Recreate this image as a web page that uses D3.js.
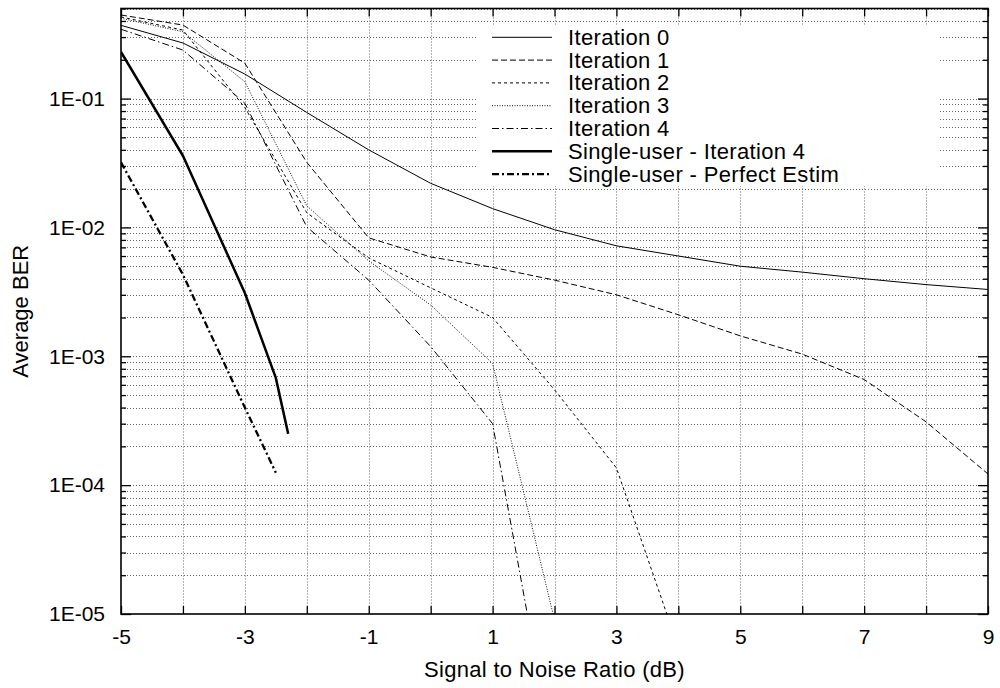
<!DOCTYPE html>
<html>
<head>
<meta charset="utf-8">
<script src="https://cdn.jsdelivr.net/npm/d3@7"></script>
<style>
  body { margin: 0; background: #fff; }
  svg { display: block; font-family: "Liberation Sans", Arial, sans-serif; }
</style>
</head>
<body>
<svg id="chart" width="1000" height="688"></svg>
<script>
// Data
const snrAll = [-5, -4, -3, -2, -1, 0, 1, 2, 3, 4, 5, 6, 7, 8, 9];
const iter0 = [0.37, 0.27, 0.155, 0.078, 0.040, 0.022, 0.014, 0.0096, 0.0072, 0.0060, 0.0050, 0.0045, 0.0040, 0.0036, 0.0033];
const iter1 = [0.445, 0.372, 0.188, 0.032, 0.0083, 0.0059, 0.0049, 0.0039, 0.0030, 0.0021, 0.00144, 0.00104, 0.00066, 0.00031, 0.000122];
const snrIter2 = [-5, -4, -3, -2, -1, 0, 1, 2, 3, 4];
const iter2 = [0.43, 0.34, 0.085, 0.013, 0.0058, 0.0034, 0.0020, 0.00055, 0.000136, 0.0000055];
const snrIter3 = [-5, -4, -3, -2, -1, 0, 1, 2];
const iter3 = [0.42, 0.33, 0.135, 0.0147, 0.0055, 0.0025, 0.00088, 0.000009];
const snrIter4 = [-5, -4, -3, -2, -1, 0, 1, 2];
const iter4 = [0.345, 0.238, 0.092, 0.0101, 0.0039, 0.00119, 0.00030, 0.0000007];
const snrSuIter = [-5, -4, -3, -2.5, -2.3];
const suIter = [0.23, 0.036, 0.0031, 0.00068, 0.00025];
const snrSuPerf = [-5, -4, -3, -2.5];
const suPerf = [0.032, 0.0043, 0.0004, 0.000125];

const xTickLabels = [-5, -3, -1, 1, 3, 5, 7, 9];
const yMajor = [1e-5, 1e-4, 1e-3, 1e-2, 1e-1];
const yTickLabels = ["1E-05", "1E-04", "1E-03", "1E-02", "1E-01"];

const seriesNames = ["Iteration 0", "Iteration 1", "Iteration 2", "Iteration 3", "Iteration 4",
  "Single-user - Iteration 4", "Single-user - Perfect Estim"];

// styles per series
const styles = [
  { w: 1, dash: null, color: "#000" },
  { w: 1, dash: "6,3", color: "#000" },
  { w: 1, dash: "3,3", color: "#000" },
  { w: 1, dash: "1,1.5", color: "#111" },
  { w: 1, dash: "7,3,1.5,3", color: "#000" },
  { w: 2.5, dash: null, color: "#000" },
  { w: 2.3, dash: "7,3,2,3", color: "#000" }
];

const series = [
  [snrAll, iter0], [snrAll, iter1], [snrIter2, iter2], [snrIter3, iter3],
  [snrIter4, iter4], [snrSuIter, suIter], [snrSuPerf, suPerf]
].map(([xs, ys], i) => ({ name: seriesNames[i], style: styles[i], pts: xs.map((x, j) => ({ x, y: ys[j] })) }));

const svg = d3.select("#chart");
const pLeft = 121, pRight = 988, pTop = 8.5, pBottom = 614;

const x = d3.scaleLinear().domain([-5, 9]).range([pLeft, pRight]);
const y = d3.scaleLog().domain([1e-5, 0.5]).range([pBottom, pTop]);

// minor log ticks
const yMinor = [];
for (let e = -5; e <= -1; e++) {
  for (let m = 2; m <= 9; m++) {
    const v = m * Math.pow(10, e);
    if (v <= 0.5) yMinor.push(v);
  }
}
const yGridVals = yMajor.slice(1).concat(yMinor);
const xInts = d3.range(-5, 10);

// grid
const grid = svg.append("g")
  .attr("stroke", "#666")
  .attr("stroke-width", 1)
  .attr("stroke-dasharray", "1,2");

grid.selectAll(".gx").data(xInts.slice(1, -1)).join("line")
  .attr("x1", d => Math.round(x(d)) + 0.5).attr("x2", d => Math.round(x(d)) + 0.5)
  .attr("y1", pTop).attr("y2", pBottom);

grid.selectAll(".gy").data(yGridVals).join("line")
  .attr("x1", pLeft).attr("x2", pRight)
  .attr("y1", d => Math.round(y(d)) + 0.5).attr("y2", d => Math.round(y(d)) + 0.5);

// legend background hides grid
svg.append("rect")
  .attr("x", 478).attr("y", 25).attr("width", 460).attr("height", 161)
  .attr("fill", "#fff");

// curves
svg.append("clipPath").attr("id", "clip")
  .append("rect").attr("x", pLeft).attr("y", pTop).attr("width", pRight - pLeft).attr("height", pBottom - pTop);

const line = d3.line().x(d => x(d.x)).y(d => y(d.y));

svg.append("g").attr("clip-path", "url(#clip)")
  .selectAll("path").data(series).join("path")
  .attr("fill", "none")
  .attr("stroke", d => d.style.color)
  .attr("stroke-width", d => d.style.w)
  .attr("stroke-dasharray", d => d.style.dash)
  .attr("stroke-linejoin", "round")
  .attr("d", d => line(d.pts));

// axes (inward ticks)
const fontSize = 21;
function styleAxis(g) {
  g.select(".domain").remove();
  g.selectAll(".tick line").attr("stroke", "#000").attr("stroke-width", 1.3);
  g.selectAll("text").attr("font-size", fontSize).attr("fill", "#000")
    .attr("font-family", "'Liberation Sans', Arial, sans-serif");
}

svg.append("g").attr("transform", `translate(${pLeft},0)`)
  .call(d3.axisLeft(y).tickValues(yMajor).tickFormat((d, i) => yTickLabels[i]).tickSize(-10).tickPadding(16))
  .call(styleAxis);
svg.append("g").attr("transform", `translate(${pLeft},0)`)
  .call(d3.axisLeft(y).tickValues(yMinor).tickFormat("").tickSize(-5))
  .call(styleAxis);
svg.append("g").attr("transform", `translate(${pRight},0)`)
  .call(d3.axisRight(y).tickValues(yMajor).tickFormat("").tickSize(-10))
  .call(styleAxis);
svg.append("g").attr("transform", `translate(${pRight},0)`)
  .call(d3.axisRight(y).tickValues(yMinor).tickFormat("").tickSize(-5))
  .call(styleAxis);

svg.append("g").attr("transform", `translate(0,${pBottom})`)
  .call(d3.axisBottom(x).tickValues(xInts).tickFormat(d => xTickLabels.includes(d) ? d : "").tickSize(-8).tickPadding(15))
  .call(styleAxis);
svg.append("g").attr("transform", `translate(0,${pTop})`)
  .call(d3.axisTop(x).tickValues(xInts).tickFormat("").tickSize(-8))
  .call(styleAxis);

// border
svg.append("rect")
  .attr("x", pLeft).attr("y", pTop).attr("width", pRight - pLeft).attr("height", pBottom - pTop)
  .attr("fill", "none").attr("stroke", "#000").attr("stroke-width", 1.6);

// axis titles
svg.append("text")
  .attr("x", (pLeft + pRight) / 2).attr("y", 677)
  .attr("text-anchor", "middle").attr("font-size", 22)
  .attr("letter-spacing", 0.3)
  .text("Signal to Noise Ratio (dB)");

svg.append("text")
  .attr("transform", `translate(28,${(pTop + pBottom) / 2}) rotate(-90)`)
  .attr("text-anchor", "middle").attr("font-size", 22)
  .text("Average BER");

// legend
const legend = svg.append("g");
const rowY = (i) => 37.3 + i * 22.8;
legend.selectAll("line").data(series).join("line")
  .attr("x1", 492).attr("x2", 552)
  .attr("y1", (d, i) => rowY(i)).attr("y2", (d, i) => rowY(i))
  .attr("stroke", d => d.style.color)
  .attr("stroke-width", d => d.style.w)
  .attr("stroke-dasharray", d => d.style.dash);
legend.selectAll("text").data(series).join("text")
  .attr("x", 568).attr("y", (d, i) => rowY(i) + 7.5)
  .attr("font-size", 22)
  .attr("letter-spacing", 0.35)
  .text(d => d.name);
</script>
</body>
</html>
